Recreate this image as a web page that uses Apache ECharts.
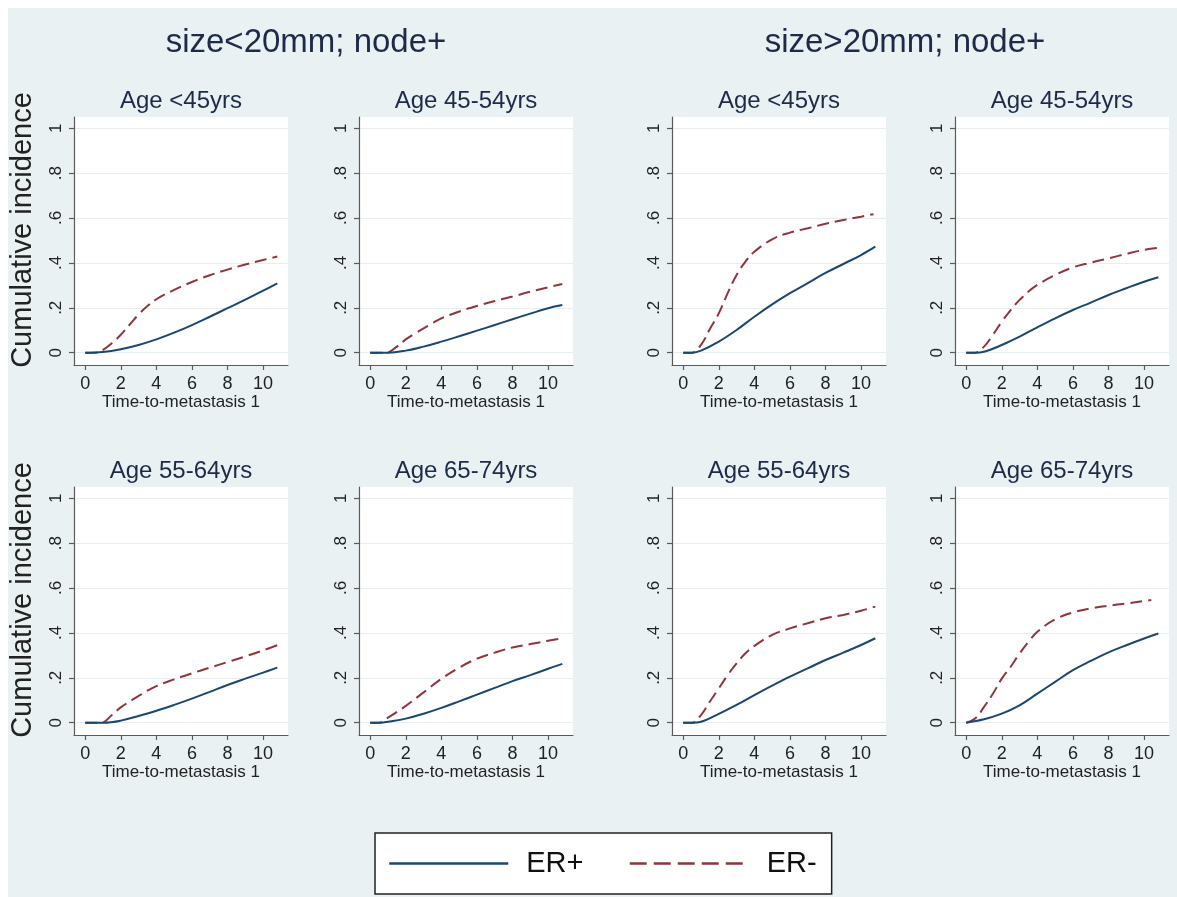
<!DOCTYPE html>
<html>
<head>
<meta charset="utf-8">
<script src="https://cdn.jsdelivr.net/npm/echarts@6/dist/echarts.min.js"></script>
<style>
  html, body { margin: 0; padding: 0; background: #ffffff; }
  #chart { width: 1177px; height: 897px; }
</style>
</head>
<body>
<div id="chart"></div>
<script>
// ---- labels ----
const groupTitles = ['size<20mm; node+', 'size>20mm; node+'];
const ageGroups = ['Age <45yrs', 'Age 45-54yrs', 'Age 55-64yrs', 'Age 65-74yrs'];
const seriesNames = ['ER+', 'ER-'];
const xTitle = 'Time-to-metastasis 1';
const yTitle = 'Cumulative incidence';
const xTicks = [0, 2, 4, 6, 8, 10];
const yTicks = [0, 0.2, 0.4, 0.6, 0.8, 1];

// ---- cumulative incidence curves: [years, incidence] ----
// size<20mm; node+
const smallAge45Pos = [[0,0],[1,0.003],[2,0.015],[3,0.034],[4,0.059],[5,0.089],[6,0.123],[7,0.16],[8,0.198],[9,0.236],[10,0.276],[10.8,0.309]];
const smallAge45Neg = [[0,0],[0.6,0],[1,0.012],[1.5,0.042],[2,0.08],[2.5,0.125],[3,0.17],[3.5,0.208],[4,0.238],[5,0.28],[6,0.315],[7,0.345],[8,0.37],[9,0.393],[10,0.413],[10.8,0.428]];
const smallAge4554Pos = [[0,0],[1,0],[2,0.009],[3,0.027],[4,0.049],[5,0.073],[6,0.098],[7,0.123],[8,0.149],[9,0.174],[10,0.198],[10.8,0.212]];
const smallAge4554Neg = [[0,0],[0.9,0],[1.5,0.027],[2,0.059],[2.5,0.085],[3,0.108],[3.5,0.132],[4,0.153],[5,0.183],[6,0.208],[7,0.23],[8,0.25],[9,0.272],[10,0.291],[10.8,0.306]];
const smallAge5564Pos = [[0,0],[1,0],[2,0.009],[3,0.03],[4,0.053],[5,0.079],[6,0.107],[7,0.137],[8,0.168],[9,0.196],[10,0.223],[10.8,0.245]];
const smallAge5564Neg = [[0,0],[0.9,0],[1.5,0.034],[2,0.068],[3,0.119],[4,0.163],[5,0.193],[6,0.22],[7,0.245],[8,0.27],[9,0.295],[10,0.322],[10.8,0.345]];
const smallAge6574Pos = [[0,0],[0.6,0],[1,0.004],[2,0.018],[3,0.04],[4,0.066],[5,0.095],[6,0.125],[7,0.155],[8,0.185],[9,0.212],[10,0.24],[10.8,0.262]];
const smallAge6574Neg = [[0,0],[0.5,0],[1,0.022],[2,0.075],[3,0.135],[4,0.195],[5,0.245],[6,0.285],[7,0.312],[8,0.335],[9,0.35],[10,0.365],[10.7,0.375]];
// size>20mm; node+
const largeAge45Pos = [[0,0],[0.5,0],[1,0.009],[2,0.049],[3,0.101],[4,0.16],[5,0.215],[6,0.265],[7,0.31],[8,0.355],[9,0.395],[10,0.435],[10.8,0.472]];
const largeAge45Neg = [[0,0],[0.5,0],[1,0.035],[1.5,0.105],[2,0.175],[2.5,0.265],[3,0.346],[3.5,0.406],[4,0.45],[5,0.505],[6,0.535],[7,0.554],[8,0.574],[9,0.591],[10,0.606],[10.7,0.617]];
const largeAge4554Pos = [[0,0],[0.5,0],[1,0.004],[2,0.034],[3,0.071],[4,0.113],[5,0.153],[6,0.19],[7,0.223],[8,0.257],[9,0.287],[10,0.316],[10.8,0.336]];
const largeAge4554Neg = [[0,0],[0.5,0],[1,0.027],[1.5,0.079],[2,0.138],[2.5,0.19],[3,0.235],[3.5,0.272],[4,0.302],[5,0.346],[6,0.38],[7,0.401],[8,0.42],[9,0.44],[10,0.458],[10.8,0.467]];
const largeAge5564Pos = [[0,0],[0.5,0],[1,0.004],[2,0.039],[3,0.079],[4,0.123],[5,0.165],[6,0.205],[7,0.242],[8,0.279],[9,0.312],[10,0.346],[10.8,0.376]];
const largeAge5564Neg = [[0,0],[0.5,0],[1,0.034],[1.5,0.094],[2,0.153],[2.5,0.212],[3,0.264],[3.5,0.309],[4,0.342],[5,0.391],[6,0.42],[7,0.443],[8,0.465],[9,0.48],[10,0.499],[10.8,0.517]];
const largeAge6574Pos = [[0,0],[1,0.015],[2,0.04],[3,0.077],[4,0.129],[5,0.182],[6,0.234],[7,0.275],[8,0.313],[9,0.345],[10,0.375],[10.8,0.397]];
const largeAge6574Neg = [[0,0],[0.5,0.018],[1,0.07],[1.5,0.129],[2,0.196],[2.5,0.249],[3,0.308],[3.5,0.36],[4,0.405],[5,0.46],[6,0.491],[7,0.509],[8,0.521],[9,0.531],[10,0.542],[10.4,0.546]];

// panels in reading order (two rows of four)
const panels = [
  { title: ageGroups[0], pos: smallAge45Pos,   neg: smallAge45Neg },
  { title: ageGroups[1], pos: smallAge4554Pos, neg: smallAge4554Neg },
  { title: ageGroups[0], pos: largeAge45Pos,   neg: largeAge45Neg },
  { title: ageGroups[1], pos: largeAge4554Pos, neg: largeAge4554Neg },
  { title: ageGroups[2], pos: smallAge5564Pos, neg: smallAge5564Neg },
  { title: ageGroups[3], pos: smallAge6574Pos, neg: smallAge6574Neg },
  { title: ageGroups[2], pos: largeAge5564Pos, neg: largeAge5564Neg },
  { title: ageGroups[3], pos: largeAge6574Pos, neg: largeAge6574Neg }
];

// ---- layout & style ----
const FONT = '"Liberation Sans", Arial, Helvetica, sans-serif';
const BG = '#e9f1f3';
const NAVY = '#1a476f';
const MAROON = '#90353b';
const TITLE_COLOR = '#1d2a49';
const AXIS_COLOR = '#5a5a5a';
const colLeft = [74, 359, 672, 955];
const rowTop = [117, 487];
const plotW = 214, plotH = 248;
const xMin = -0.63, xMax = 11.4;
const yMin = -0.055, yMax = 1.05;

function yLabel(v) {
  if (Math.abs(v) < 1e-9) return '0';
  if (Math.abs(v - 1) < 1e-9) return '1';
  return String(+v.toFixed(1)).replace(/^0/, '');
}

const grids = [], xAxes = [], yAxes = [], series = [];
const graphics = [
  // thin white margin along the top and left edges
  { type: 'rect', left: 0, top: 0, shape: { width: 1177, height: 8 }, style: { fill: '#ffffff' }, silent: true },
  { type: 'rect', left: 0, top: 0, shape: { width: 8, height: 897 }, style: { fill: '#ffffff' }, silent: true },
  { type: 'text', x: 306, y: 43, style: { text: groupTitles[0], font: '33px ' + FONT, fill: TITLE_COLOR, align: 'center', verticalAlign: 'middle' }, silent: true },
  { type: 'text', x: 905, y: 43, style: { text: groupTitles[1], font: '33px ' + FONT, fill: TITLE_COLOR, align: 'center', verticalAlign: 'middle' }, silent: true }
];

panels.forEach((p, i) => {
  const row = Math.floor(i / 4), col = i % 4;
  const left = colLeft[col], top = rowTop[row];
  grids.push({
    left: left, top: top, width: plotW, height: plotH,
    show: true, backgroundColor: '#ffffff', borderWidth: 0,
    containLabel: false, outerBoundsMode: 'none'
  });
  xAxes.push({
    gridIndex: i, type: 'value', min: xMin, max: xMax,
    name: xTitle, nameLocation: 'middle', nameGap: 25,
    nameTextStyle: { fontFamily: FONT, fontSize: 17, color: '#222' },
    axisLine: { show: true, onZero: false, lineStyle: { color: AXIS_COLOR, width: 1.2 } },
    axisTick: { show: true, customValues: xTicks, length: 5, lineStyle: { color: AXIS_COLOR, width: 1.2 } },
    axisLabel: { show: true, customValues: xTicks, margin: 10, fontFamily: FONT, fontSize: 18, color: '#222', formatter: v => String(v) },
    splitLine: { show: false }
  });
  yAxes.push({
    gridIndex: i, type: 'value', min: yMin, max: yMax,
    name: col === 0 ? yTitle : '', nameLocation: 'middle', nameGap: 37,
    nameTextStyle: { fontFamily: FONT, fontSize: 29, color: '#222', padding: [0, 0, 0, 22] },
    axisLine: { show: true, onZero: false, lineStyle: { color: AXIS_COLOR, width: 1.2 } },
    axisTick: { show: true, customValues: yTicks, length: 5, lineStyle: { color: AXIS_COLOR, width: 1.2 } },
    axisLabel: { show: true, customValues: yTicks, rotate: 90, margin: 9, fontFamily: FONT, fontSize: 17, color: '#222', formatter: yLabel },
    splitLine: { show: true, lineStyle: { color: '#e8eef0', width: 1 } }
  });
  series.push({
    type: 'line', name: seriesNames[0], xAxisIndex: i, yAxisIndex: i,
    data: p.pos, showSymbol: false, symbol: 'none', smooth: 0.4,
    lineStyle: { color: NAVY, width: 2 }, itemStyle: { color: NAVY }, z: 3
  });
  series.push({
    type: 'line', name: seriesNames[1], xAxisIndex: i, yAxisIndex: i,
    data: p.neg, showSymbol: false, symbol: 'none', smooth: 0.4,
    lineStyle: { color: MAROON, width: 2, type: [12, 6] }, itemStyle: { color: MAROON }, z: 2
  });
  graphics.push({
    type: 'text', x: left + plotW / 2, y: top - 16,
    style: { text: p.title, font: '24px ' + FONT, fill: TITLE_COLOR, align: 'center', verticalAlign: 'middle' },
    silent: true
  });
});

const chart = echarts.init(document.getElementById('chart'), null, { renderer: 'canvas' });
chart.setOption({
  animation: false,
  backgroundColor: BG,
  textStyle: { fontFamily: FONT },
  grid: grids,
  xAxis: xAxes,
  yAxis: yAxes,
  series: series,
  legend: {
    left: 375, top: 833,
    orient: 'horizontal',
    padding: [16, 15, 16, 13],
    itemWidth: 119, itemHeight: 20, itemGap: 45,
    backgroundColor: '#ffffff', borderColor: '#222222', borderWidth: 1.5, borderRadius: 0,
    textStyle: { fontFamily: FONT, fontSize: 29, color: '#111', padding: [0, 0, 0, 13] },
    lineStyle: { width: 2.5 },
    itemStyle: { opacity: 0 },
    data: [
      { name: seriesNames[0] },
      { name: seriesNames[1], lineStyle: { type: [17, 7] } }
    ],
    selectedMode: false
  },
  graphic: graphics
});
</script>
</body>
</html>
